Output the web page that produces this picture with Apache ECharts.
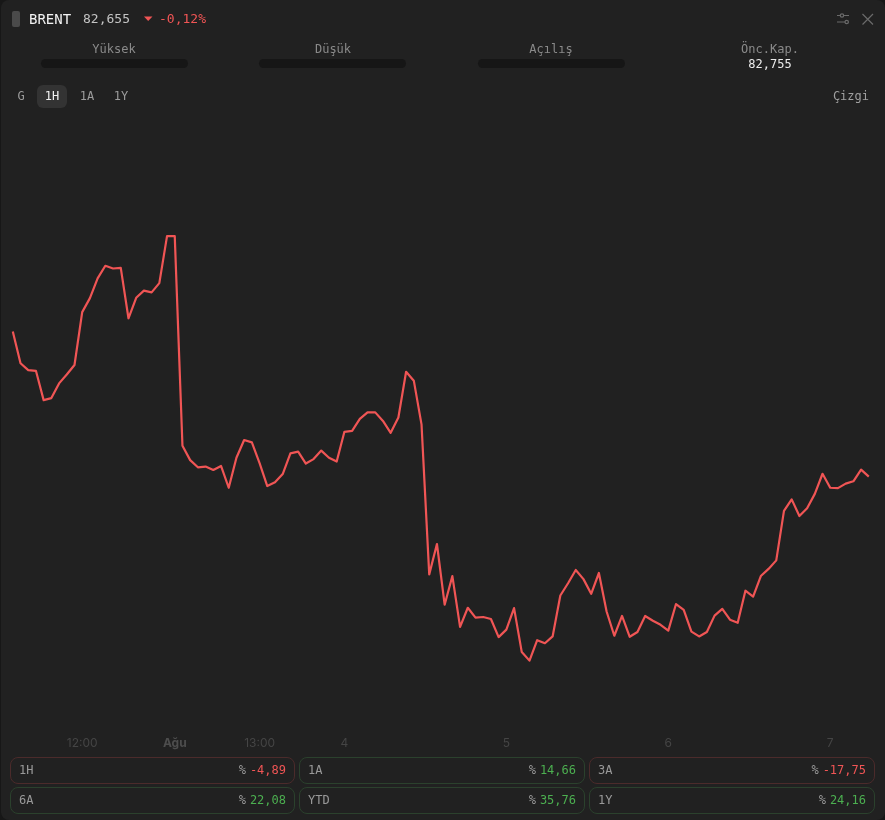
<!DOCTYPE html>
<html lang="tr"><head><meta charset="utf-8">
<script src="https://cdn.jsdelivr.net/npm/echarts@6/dist/echarts.min.js"></script>
<style>
html,body{margin:0;padding:0;background:#171717;width:885px;height:820px;overflow:hidden}
#card{position:absolute;left:1px;top:0;width:884px;height:820px;background:#212121;border-radius:8px}
#chart{position:absolute;left:0;top:0;width:885px;height:820px}
.t{position:absolute;font-family:"DejaVu Sans Mono",monospace;font-size:12px;line-height:16px;white-space:nowrap}
.c{transform:translateX(-50%)}
.bar{position:absolute;top:59px;height:9px;width:147px;background:#161616;border-radius:5px}
.pill{position:absolute;height:25px;border-radius:8px;border:1px solid;box-sizing:content-box}
.pill .a{position:absolute;left:8px;top:4px;color:#999}
.pill .b{position:absolute;right:8px;top:4px;color:#999}
.pill .a,.pill .b{font-family:"DejaVu Sans Mono",monospace;font-size:12px;line-height:16px}
</style></head><body>
<div id="card"></div>
<div id="chart"></div>
<div id="ui"></div>
<script>
const symbolName='BRENT', lastPrice='82,655', changeText='-0,12%', prevClose='82,755';
const statLabels=['Yüksek','Düşük','Açılış','Önc.Kap.'];
const rangeTabs=['G','1H','1A','1Y'];
const perfLabels=['1H','1A','3A','6A','YTD','1Y'];
const perfValues=['-4,89','14,66','-17,75','22,08','35,76','24,16'];
const tickIndexes=[9,21,32,43,64,85,106];
const tickLabels=['12:00','Ağu','13:00','4','5','6','7'];
const prices=[86.91,85.98,85.78,85.76,84.90,84.96,85.39,85.65,85.93,87.48,87.89,88.47,88.84,88.76,88.78,87.30,87.90,88.11,88.06,88.33,89.71,89.71,
83.56,83.14,82.93,82.95,82.85,82.97,82.33,83.21,83.73,83.66,83.05,82.38,82.49,82.73,83.34,83.39,83.04,83.17,83.42,83.21,83.10,83.97,84.00,84.35,84.54,84.54,84.29,83.94,84.39,85.73,85.47,84.19,
79.79,80.68,78.90,79.74,78.25,78.81,78.52,78.54,78.48,77.95,78.17,78.80,77.51,77.26,77.86,77.77,77.97,79.17,79.53,79.92,79.65,79.22,79.83,78.70,77.99,78.57,77.96,78.10,78.57,78.43,78.31,78.14,78.92,78.75,78.11,77.97,78.10,78.58,78.78,78.46,78.37,79.31,79.14,79.74,79.95,80.20,
81.65,81.99,81.50,81.73,82.15,82.74,82.33,82.32,82.45,82.52,82.86,82.655];

const chart=echarts.init(document.getElementById('chart'),null,{renderer:'canvas'});
chart.setOption({
  animation:false,
  backgroundColor:'transparent',
  grid:{left:12.8,top:192.1,width:856,height:545.6,containLabel:false},
  xAxis:{type:'category',boundaryGap:false,data:prices.map((_,i)=>i),
    axisLine:{show:false},axisTick:{show:false},splitLine:{show:false},
    axisLabel:{margin:0,hideOverlap:false,
      interval:(i)=>tickIndexes.includes(i),
      formatter:(v)=>{const l=tickLabels[tickIndexes.indexOf(+v)];return l==='Ağu'?'{b|'+l+'}':l;},
      color:'#454545',fontSize:12,fontFamily:'Inter, sans-serif',lineHeight:12,
      rich:{b:{fontWeight:'bold',color:'#4d4d4d',fontSize:12,fontFamily:'Inter, sans-serif',lineHeight:12}}}},
  yAxis:{type:'value',min:75,max:91,show:false,splitLine:{show:false}},
  series:[{type:'line',data:prices,symbol:'none',smooth:false,
    lineStyle:{color:'#f05555',width:2.2,join:'round'}}]
});

const ui=document.getElementById('ui');
function add(html){ui.insertAdjacentHTML('beforeend',html);}
function txt(s,x,y,col,extra){add(`<div class="t" style="left:${x}px;top:${y-8}px;color:${col};${extra||''}">${s}</div>`);}
add('<div style="position:absolute;left:12px;top:11px;width:8px;height:16px;background:#4a4a4a;border-radius:2px"></div>');
txt(symbolName,29,19,'#f2f2f2','font-size:14px');
txt(lastPrice,83,19,'#c4c4c4','font-size:13px');
add('<svg style="position:absolute;left:144px;top:16px" width="9" height="6"><path d="M0 0.5H8.5L4.2 5Z" fill="#f05555"/></svg>');
txt(changeText,159,19,'#f05555','font-size:13px');
add(`<svg style="position:absolute;left:836px;top:12px" width="40" height="14" fill="none" stroke="#6a6a6a" stroke-width="1.2">
<path d="M1 3.5H4M8 3.5H13M1 10H9M12.5 10H13"/><circle cx="6" cy="3.5" r="1.7"/><circle cx="10.7" cy="10" r="1.7"/>
<path d="M26.5 2L37 12.5M37 2L26.5 12.5"/></svg>`);
const statX=[114,333,551,770];
statLabels.forEach((s,i)=>{add(`<div class="t c" style="left:${statX[i]}px;top:41px;color:#8a8a8a">${s}</div>`);});
[41,259,478].forEach(x=>add(`<div class="bar" style="left:${x}px"></div>`));
add(`<div class="t c" style="left:770px;top:56px;color:#ececec">${prevClose}</div>`);
add('<div style="position:absolute;left:37px;top:85px;width:30px;height:23px;background:#333;border-radius:6px"></div>');
const tabX=[21,52,87,121];
rangeTabs.forEach((s,i)=>add(`<div class="t c" style="left:${tabX[i]}px;top:88px;color:${i==1?'#f0f0f0':'#9c9c9c'}">${s}</div>`));
add('<div class="t" style="right:16px;top:88px;color:#a0a0a0">Çizgi</div>');
const pillX=[10,299,589], pillY=[757,787], pillW=[283,284,284];
perfLabels.forEach((s,i)=>{
  const v=perfValues[i], neg=v[0]==='-';
  const col=neg?'#f05555':'#4caf50', bd=neg?'#4b2b2b':'#2b412d';
  add(`<div class="pill" style="left:${pillX[i%3]}px;top:${pillY[i/3|0]}px;border-color:${bd};width:${pillW[i%3]}px">
  <span class="a">${s}</span><span class="b">%<span style="color:${col};margin-left:4px">${v}</span></span></div>`);
});
</script></body></html>
